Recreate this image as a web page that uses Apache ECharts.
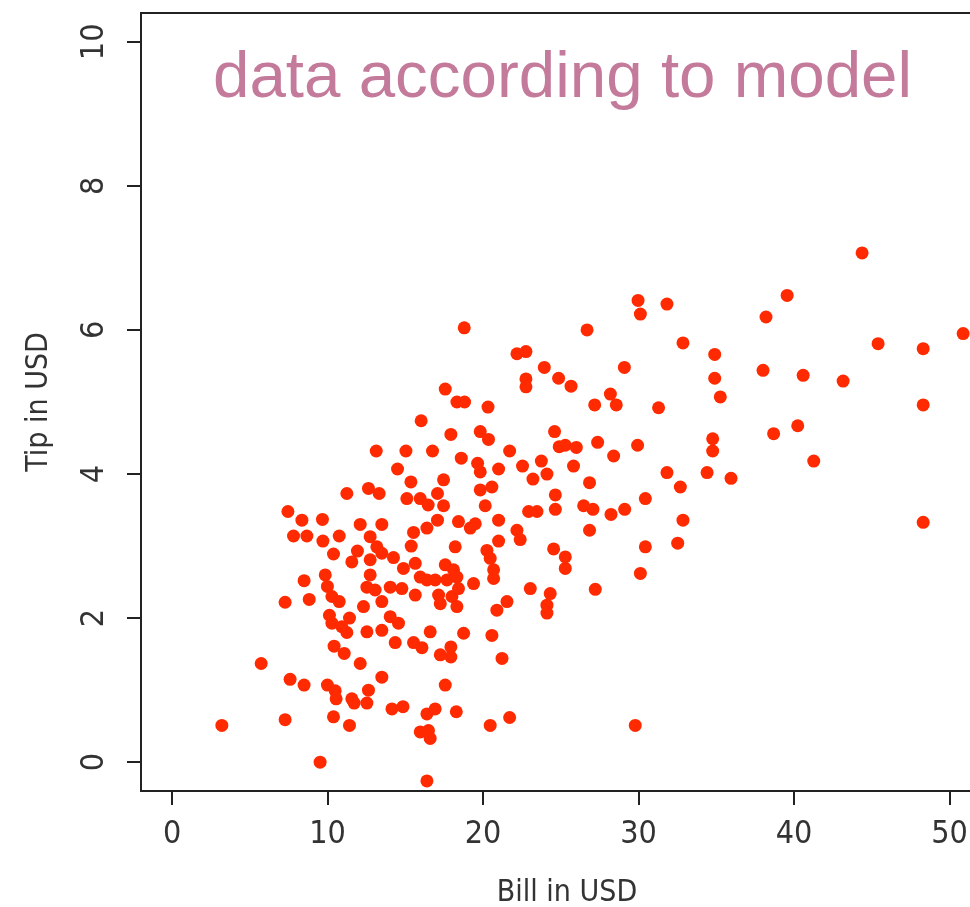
<!DOCTYPE html>
<html>
<head>
<meta charset="utf-8">
<script src="https://cdn.jsdelivr.net/npm/echarts@6/dist/echarts.min.js"></script>
<style>
html,body{margin:0;padding:0;background:#fff;}
#chart{width:970px;height:907px;}
</style>
</head>
<body>
<div id="chart"></div>
<script>
var titleText = "data according to model";
var xName = "Bill in USD";
var yName = "Tip in USD";
var xTicks = [0, 10, 20, 30, 40, 50];
var yTicks = [0, 2, 4, 6, 8, 10];

var bills = [
11.24,7.45,8.35,9.67,12.10,7.81,8.67,9.70,10.75,10.38,11.92,11.56,8.49,9.85,9.99,7.27,8.82,10.28,10.75,10.12,
11.41,10.28,10.92,11.24,10.42,11.07,12.10,5.73,7.59,8.49,9.99,10.49,10.55,11.56,11.71,3.20,7.27,10.38,11.41,9.52,
12.63,13.32,17.46,15.10,15.96,16.47,17.07,17.46,19.82,20.57,20.14,22.93,23.47,24.65,24.65,13.49,15.53,16.39,17.07,18.42,
19.18,19.50,21.00,22.18,22.39,12.74,13.17,15.38,18.21,21.00,20.25,24.54,12.74,13.49,14.24,14.88,15.64,17.57,18.10,20.46,
20.68,20.68,12.74,12.53,13.06,14.03,14.78,15.96,16.39,16.92,17.68,18.32,18.42,19.39,23.04,24.32,15.64,17.14,18.00,13.49,
12.31,17.25,18.32,20.89,21.54,24.11,24.11,14.03,14.56,12.53,13.49,16.60,18.75,20.57,14.35,15.53,16.07,17.25,17.93,17.93,
21.22,13.49,17.57,12.63,12.53,14.14,14.85,16.39,16.92,18.28,20.46,21.71,15.96,16.49,16.60,16.39,18.79,22.18,22.76,23.94,
24.86,22.76,22.76,17.57,18.32,18.81,20.32,16.02,17.93,19.82,20.35,24.60,13.13,15.04,16.75,21.71,18.60,19.65,19.82,21.00,
22.54,23.75,24.11,23.21,14.50,15.36,24.90,29.97,31.83,30.12,26.69,32.86,34.90,34.90,35.26,25.66,29.09,28.19,28.57,27.18,
31.29,25.29,26.00,27.37,29.94,28.40,34.77,34.77,25.82,26.85,31.83,34.41,35.95,26.47,27.07,28.23,29.11,30.44,32.69,32.86,
26.85,25.29,25.29,30.44,32.52,30.12,27.22,29.79,44.38,39.56,38.20,50.88,45.41,48.31,38.01,40.59,43.16,48.31,40.24,38.69,
41.27,48.31
];
var tips = [
3.73,3.48,3.36,3.37,3.30,3.14,3.14,3.07,3.14,2.89,2.93,2.78,2.52,2.60,2.44,2.22,2.26,2.30,2.23,2.04,
2.00,1.93,1.88,1.80,1.61,1.51,1.37,1.37,1.15,1.07,1.07,0.99,0.88,0.88,0.82,0.51,0.59,0.63,0.51,0.00,
3.80,3.73,3.92,3.66,3.66,3.57,3.73,3.56,3.78,3.82,3.56,3.48,3.48,3.71,3.51,3.30,3.19,3.25,3.36,3.34,
3.25,3.31,3.36,3.22,3.09,3.13,2.99,3.00,2.99,3.07,2.94,2.96,2.81,2.90,2.84,2.69,2.76,2.74,2.67,2.83,
2.67,2.55,2.60,2.43,2.39,2.43,2.41,2.57,2.53,2.53,2.53,2.57,2.41,2.48,2.41,2.34,2.32,2.32,2.30,2.23,
2.16,2.20,2.16,2.11,2.23,2.18,2.07,2.02,1.93,1.81,1.83,1.81,1.79,1.76,1.66,1.66,1.59,1.49,1.60,1.46,
1.44,1.18,1.07,1.00,0.82,0.74,0.77,0.67,0.74,0.70,0.51,0.62,0.42,0.44,0.33,-0.26,6.03,5.67,5.70,5.48,
5.33,5.32,5.21,5.18,5.00,5.00,4.93,4.74,4.55,4.59,4.48,4.59,4.32,4.32,4.32,4.32,4.22,4.15,4.03,4.07,
4.11,4.18,4.00,3.93,4.07,3.89,4.38,6.41,6.36,6.22,6.00,5.82,5.66,5.33,5.07,5.22,5.48,5.11,4.96,4.96,
4.92,4.40,4.37,4.44,4.40,4.25,4.49,4.32,4.11,3.88,4.02,4.02,3.94,3.56,3.51,3.44,3.51,3.66,3.82,3.36,
3.22,2.85,2.69,2.99,3.04,2.62,2.40,0.51,7.07,6.48,6.18,5.95,5.81,5.74,5.44,5.37,5.29,4.96,4.67,4.56,
4.18,3.33
];

var points = bills.map(function (b, i) { return [b, tips[i]]; });

var tickFont = "'DejaVu Sans Condensed', 'DejaVu Sans', sans-serif";
var chart = echarts.init(document.getElementById('chart'), null, {renderer: 'canvas'});
chart.setOption({
  animation: false,
  backgroundColor: '#ffffff',
  title: {
    text: titleText,
    left: 208,
    top: 41,
    textStyle: {
      color: '#c47a9b',
      fontSize: 65.5,
      fontWeight: 'normal',
      fontFamily: "'Liberation Sans', Arial, sans-serif"
    }
  },
  grid: {
    left: 141,
    top: 13,
    width: 852,
    height: 778,
    show: true,
    borderColor: '#222',
    borderWidth: 2,
    backgroundColor: 'transparent',
    containLabel: false,
    outerBoundsMode: 'none'
  },
  xAxis: {
    type: 'value',
    min: -2.0,
    max: 52.8,
    name: xName,
    nameLocation: 'middle',
    nameGap: 87,
    nameTextStyle: { color: '#333', fontSize: 30, fontFamily: tickFont },
    axisLine: { show: false, onZero: false },
    splitLine: { show: false },
    axisTick: {
      show: true, inside: false, length: 14,
      customValues: xTicks,
      lineStyle: { color: '#222', width: 2 }
    },
    axisLabel: {
      show: true, margin: 28,
      customValues: xTicks,
      color: '#333', fontSize: 32, fontFamily: tickFont
    }
  },
  yAxis: {
    type: 'value',
    min: -0.4,
    max: 10.4,
    name: yName,
    nameLocation: 'middle',
    nameGap: 87,
    nameRotate: 90,
    nameTextStyle: { color: '#333', fontSize: 30, fontFamily: tickFont },
    axisLine: { show: false, onZero: false },
    splitLine: { show: false },
    axisTick: {
      show: true, inside: false, length: 14,
      customValues: yTicks,
      lineStyle: { color: '#222', width: 2 }
    },
    axisLabel: {
      show: true, margin: 30, rotate: 90,
      customValues: yTicks,
      color: '#333', fontSize: 32, fontFamily: tickFont
    }
  },
  series: [{
    type: 'scatter',
    data: points,
    symbol: 'circle',
    symbolSize: 13,
    itemStyle: { color: '#ff2a00', opacity: 1 },
    clip: true
  }]
});
</script>
</body>
</html>
